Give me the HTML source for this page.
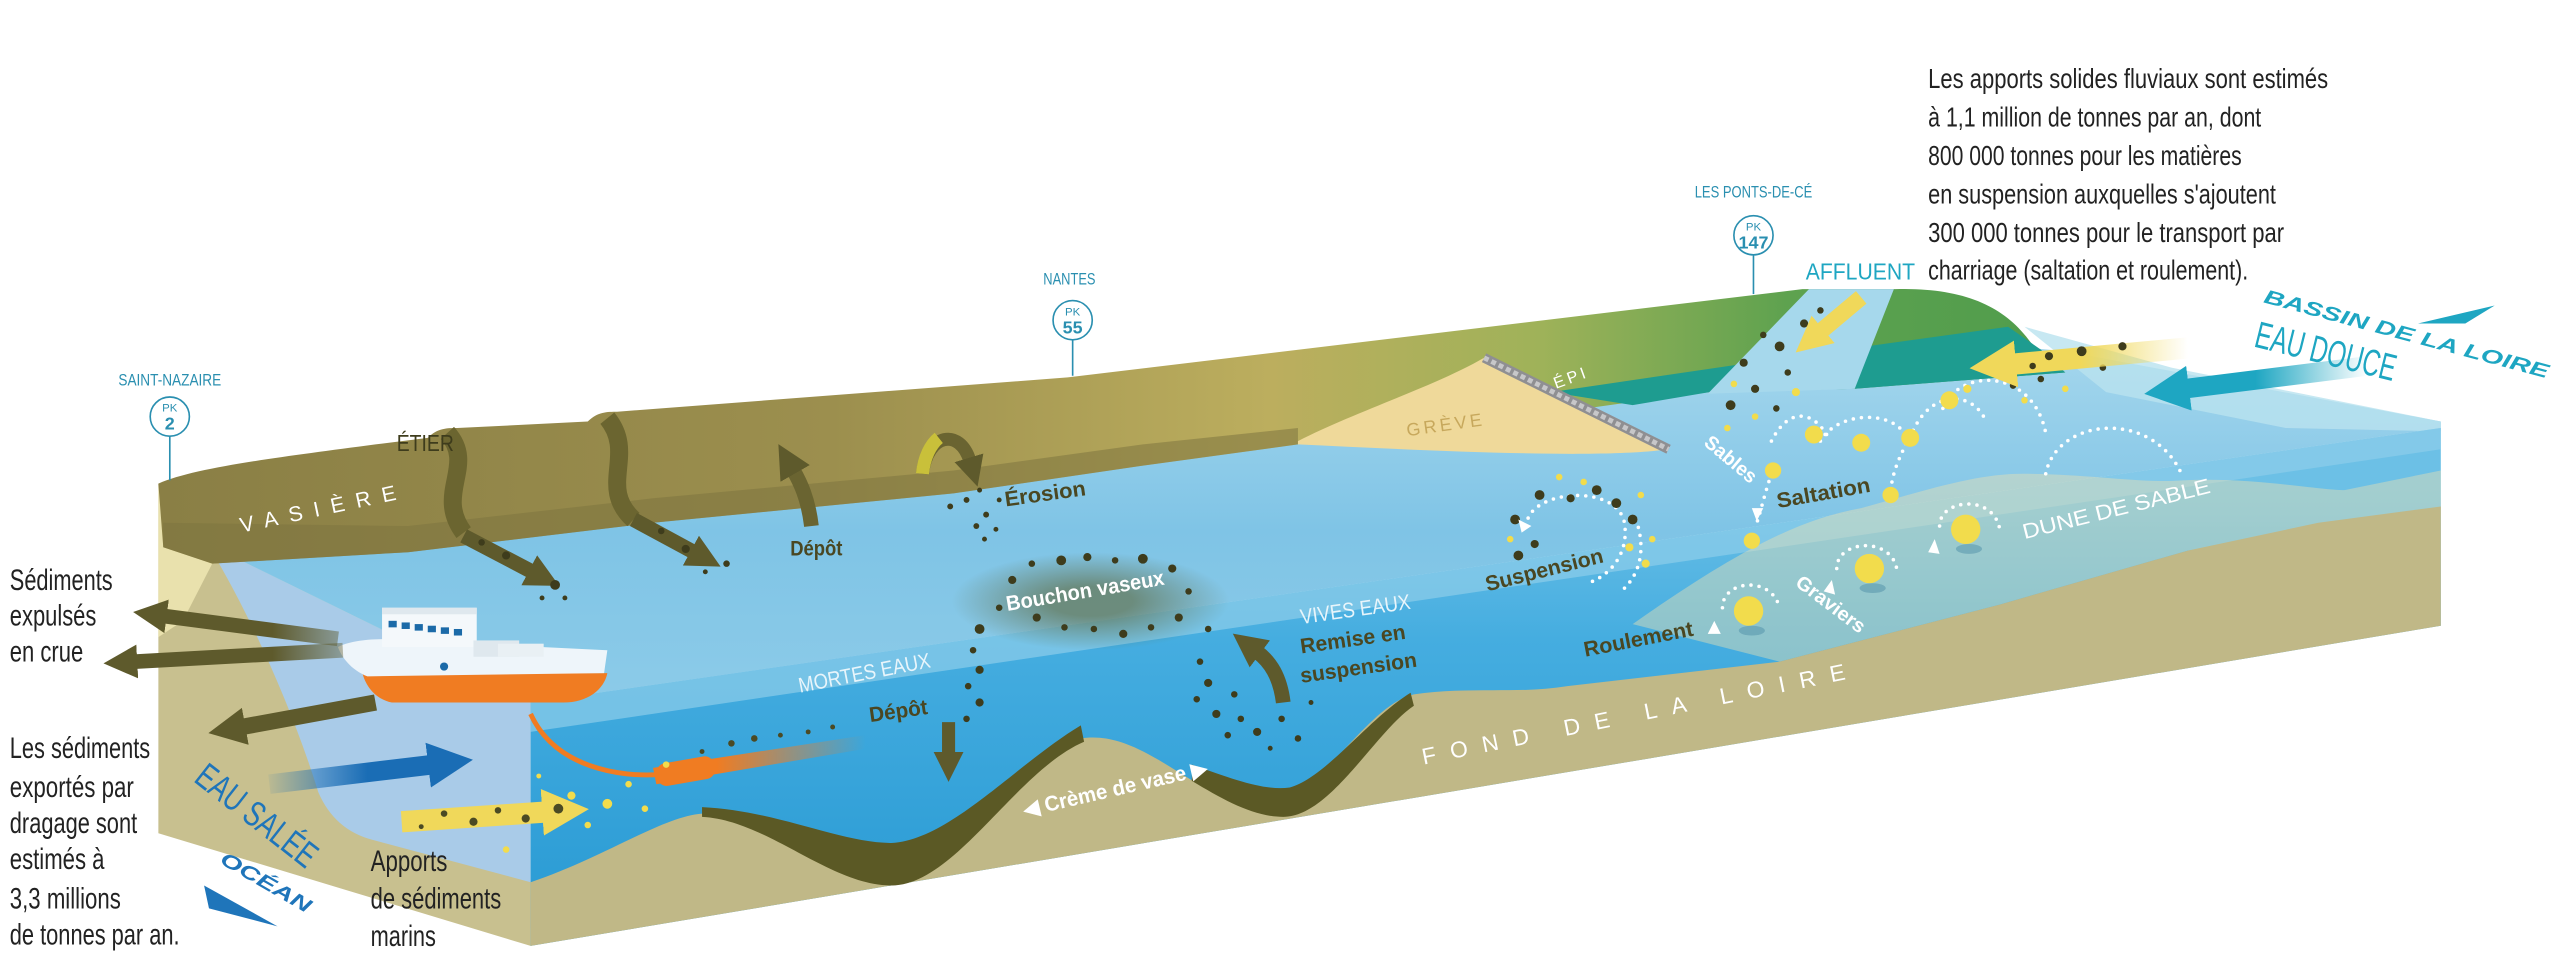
<!DOCTYPE html>
<html><head><meta charset="utf-8"><style>
html,body{margin:0;padding:0;background:#fff;}
svg{display:block}
text{font-family:"Liberation Sans",sans-serif;}
</style></head><body>
<svg width="2560" height="959" viewBox="0 0 1568 587" preserveAspectRatio="none" xmlns="http://www.w3.org/2000/svg">
<defs>
<linearGradient id="landg" gradientUnits="userSpaceOnUse" x1="100" y1="0" x2="1270" y2="0">
<stop offset="0" stop-color="#8a7f45"/><stop offset="0.35" stop-color="#9c8f4e"/><stop offset="0.58" stop-color="#bcae5e"/><stop offset="0.72" stop-color="#9fb259"/><stop offset="0.85" stop-color="#5ea24f"/><stop offset="1" stop-color="#4f9c4c"/>
</linearGradient>
<linearGradient id="front" gradientUnits="userSpaceOnUse" x1="0" y1="300" x2="0" y2="560">
<stop offset="0" stop-color="#6cc0e6"/><stop offset="0.35" stop-color="#45ade0"/><stop offset="1" stop-color="#2a9bd4"/>
</linearGradient>
<linearGradient id="surf" gradientUnits="userSpaceOnUse" x1="0" y1="220" x2="0" y2="430">
<stop offset="0" stop-color="#a2d5ec"/><stop offset="0.5" stop-color="#7fc4e6"/><stop offset="1" stop-color="#8ccbe8"/>
</linearGradient>
<radialGradient id="cloud"><stop offset="0.3" stop-color="#5b6436" stop-opacity="0.6"/><stop offset="1" stop-color="#5b6436" stop-opacity="0"/></radialGradient>
<marker id="mo" viewBox="0 0 10 10" refX="1" refY="5" markerWidth="2.3" markerHeight="2.3" orient="auto"><path d="M0,0L10,5L0,10z" fill="#5e5a2c"/></marker>
<marker id="mb" viewBox="0 0 10 10" refX="1" refY="5" markerWidth="2.3" markerHeight="2.3" orient="auto"><path d="M0,0L10,5L0,10z" fill="#1a6db5"/></marker>
<marker id="mt" viewBox="0 0 10 10" refX="1" refY="5" markerWidth="2.3" markerHeight="2.3" orient="auto"><path d="M0,0L10,5L0,10z" fill="#1ea6c2"/></marker>
<marker id="my" viewBox="0 0 10 10" refX="1" refY="5" markerWidth="2.2" markerHeight="2.2" orient="auto"><path d="M0,0L10,5L0,10z" fill="#f0d85a"/></marker>
<linearGradient id="fadeT" gradientUnits="userSpaceOnUse" x1="1313" y1="0" x2="1450" y2="0"><stop offset="0.5" stop-color="#1ea6c2"/><stop offset="1" stop-color="#1ea6c2" stop-opacity="0"/></linearGradient>
<linearGradient id="fadeY" gradientUnits="userSpaceOnUse" x1="1209" y1="0" x2="1340" y2="0"><stop offset="0.5" stop-color="#f0d85a"/><stop offset="1" stop-color="#f0d85a" stop-opacity="0"/></linearGradient>
<linearGradient id="fadeO" gradientUnits="userSpaceOnUse" x1="80" y1="0" x2="225" y2="0"><stop offset="0.6" stop-color="#5e5a2c"/><stop offset="1" stop-color="#5e5a2c" stop-opacity="0.2"/></linearGradient>
<linearGradient id="fadeB" gradientUnits="userSpaceOnUse" x1="160" y1="0" x2="290" y2="0"><stop offset="0" stop-color="#1a6db5" stop-opacity="0"/><stop offset="0.5" stop-color="#1a6db5"/></linearGradient>
<linearGradient id="fadeOr" gradientUnits="userSpaceOnUse" x1="400" y1="0" x2="530" y2="0"><stop offset="0.3" stop-color="#f07c22"/><stop offset="1" stop-color="#f07c22" stop-opacity="0"/></linearGradient>
</defs>

<!-- left face -->
<polygon points="97,296 127,333 325,430 325,579 97,510" fill="#c8c08f"/>
<polygon points="97,296 110,300 122,325 130,345 112,380 97,390" fill="#e9e1ad"/>
<path d="M127,333 C150,370 178,430 195,485 Q205,508 228,514 L325,540 L325,430 Z" fill="#a9cbe8"/>

<!-- water surface -->
<polygon points="100,330 700,270 1104,200 1265,215 1495,258 1495,262 325,430 127,333" fill="url(#surf)"/>
<polygon points="1240,200 1330,225 1495,258 1495,264 1400,262 1290,240" fill="#b9e2ef" opacity="0.8"/>

<!-- land -->
<path d="M97,296 C120,286 170,280 230,272 L262,268 C268,262 274,262 280,262 L360,258 C366,252 372,252 378,252 L654,231 L1104,177 L1111,177 L1161,177 C1200,176 1225,186 1241,206 C1250,218 1258,224 1265,228 L1135,238 L1047,240 L1000,246 L900,260 L795,272 L700,285 L584,302 L400,320 L250,338 L130,345 L100,335 Z" fill="url(#landg)"/>
<path d="M100,320 L250,322 L400,305 L584,288 L700,272 L795,262 L795,272 L700,285 L584,302 L400,320 L250,338 L130,345 L100,335 Z" fill="#7e7540" opacity="0.55"/>
<polygon points="950,240 1100,218 1230,200 1250,214 1265,228 1135,238 1047,240 1000,248" fill="#1e9c90"/>
<polygon points="1108,177 1160,177 1136,238 1046,241" fill="#a6d8ec"/>
<!-- greve + epi -->
<path d="M795,270 C830,252 880,236 909,219 L1022,275 C980,281 880,276 795,272 Z" fill="#efd99a"/>
<line x1="909" y1="219" x2="1022" y2="275" stroke="#8f8f92" stroke-width="6"/>
<line x1="909" y1="219" x2="1022" y2="275" stroke="#c7c7c9" stroke-width="3" stroke-dasharray="3 2"/>
<text x="862" y="267" font-size="11" fill="#c7a85c" letter-spacing="2" transform="rotate(-8 862 267)">GRÈVE</text>
<text x="953" y="238" font-size="10" fill="#fff" letter-spacing="2" transform="rotate(-20 953 238)">ÉPI</text>
<!-- etier channels -->
<path d="M274,265 C292,285 266,302 284,326" stroke="#6b6530" stroke-width="11" fill="none"/>
<path d="M372,256 C390,278 366,298 388,318" stroke="#6b6530" stroke-width="11" fill="none"/>

<!-- front face -->
<polygon points="325,430 1495,262 1495,383 325,579" fill="url(#front)"/>
<polygon points="325,430 1495,262 1495,275 325,448" fill="#8dcdea" opacity="0.7"/>
<!-- dune -->
<path d="M1000,382 C1060,340 1100,318 1140,311 C1180,300 1210,290 1239,290 C1280,290 1310,296 1337,294 C1380,292 1420,300 1436,300 L1495,288 L1495,316 L1340,337 L1225,370 L1090,405 Z" fill="#e6dfb4" opacity="0.45"/>
<!-- sand bed -->
<path d="M325,540 C370,525 405,500 430,498 C470,500 510,540 546,540 C585,540 625,462 662,452 C700,446 730,488 770,494 C805,496 835,432 866,425 C900,420 930,425 960,420 L1090,405 L1225,370 L1340,337 L1420,320 L1495,310 L1495,383 L325,579 Z" fill="#c0b887"/>
<path d="M430,494 C475,496 515,516 546,516 C582,514 622,468 662,444 L664,454 C622,472 585,542 546,542 C508,542 470,502 430,500 Z" fill="#5b5925"/>
<path d="M730,468 C758,478 775,484 790,482 C812,476 838,440 864,424 L866,432 C842,448 815,500 786,500 C768,500 750,490 730,478 Z" fill="#5b5925"/>
<text x="628" y="500" font-size="13" font-weight="bold" fill="#fff" transform="rotate(-13 628 500)" textLength="115" lengthAdjust="spacingAndGlyphs">◀ Crème de vase ▶</text>
<text x="872" y="468" font-size="14" fill="#fff" letter-spacing="9" transform="rotate(-11.4 872 468)">FOND DE LA LOIRE</text>

<!-- boat + dredge pipe -->
<path d="M325,437 C340,470 380,476 405,474" stroke="#f07c22" stroke-width="3" fill="none"/>
<path d="M400,470 L530,450 L532,458 L402,480 Z" fill="url(#fadeOr)"/>
<rect x="402" y="465" width="36" height="14" rx="6" fill="#f07c22" transform="rotate(-10 420 472)"/>
<path d="M222,412 L372,412 C370,422 360,430 345,430 L240,430 C230,428 224,420 222,412 Z" fill="#f07c22"/>
<path d="M207,396 C215,392 230,390 250,392 L372,398 L370,412 L225,414 C215,410 209,402 207,396 Z" fill="#eef5fa"/>
<rect x="234" y="372" width="58" height="24" fill="#f4f8fb"/>
<rect x="234" y="372" width="58" height="4" fill="#dfe8ee"/>
<g fill="#1b6aa8"><rect x="238" y="380" width="5" height="4"/><rect x="246" y="381" width="5" height="4"/><rect x="254" y="382" width="5" height="4"/><rect x="262" y="383" width="5" height="4"/><rect x="270" y="384" width="5" height="4"/><rect x="278" y="385" width="5" height="4"/></g>
<rect x="290" y="392" width="28" height="10" fill="#dfe8ee"/><rect x="305" y="394" width="28" height="8" fill="#e9f0f4"/>
<circle cx="272" cy="408" r="2.5" fill="#1b6aa8"/>

<!-- left arrows -->
<path d="M207,391 L100,377" stroke="url(#fadeO)" stroke-width="9" fill="none" marker-end="url(#mo)"/>
<path d="M210,398 L82,405" stroke="url(#fadeO)" stroke-width="9" fill="none" marker-end="url(#mo)"/>
<path d="M230,430 L148,445" stroke="#5e5a2c" stroke-width="10" fill="none" marker-end="url(#mo)"/>
<path d="M165,480 L265,468" stroke="url(#fadeB)" stroke-width="12" fill="none" marker-end="url(#mb)"/>
<path d="M246,503 L335,497" stroke="#f0d85a" stroke-width="13" fill="none" marker-end="url(#my)"/>
<g fill="#4b4a24"><circle cx="272" cy="498" r="2"/><circle cx="290" cy="503" r="2.5"/><circle cx="305" cy="496" r="2"/><circle cx="322" cy="501" r="2.5"/><circle cx="342" cy="495" r="3"/><circle cx="258" cy="506" r="1.5"/></g>
<g fill="#f2dc4c"><circle cx="330" cy="475" r="1.5"/><circle cx="350" cy="487" r="2.5"/><circle cx="372" cy="492" r="3"/><circle cx="385" cy="480" r="2"/><circle cx="395" cy="495" r="2"/><circle cx="360" cy="505" r="2"/><circle cx="310" cy="520" r="2"/><circle cx="408" cy="468" r="2"/></g>
<g fill="#4b4a24"><circle cx="430" cy="460" r="1.5"/><circle cx="448" cy="455" r="2"/><circle cx="462" cy="452" r="2"/><circle cx="478" cy="450" r="1.5"/><circle cx="495" cy="448" r="1.5"/><circle cx="510" cy="445" r="1.5"/></g>

<!-- etier arrows & depot/erosion -->
<path d="M284,328 L326,350" stroke="#5e5a2c" stroke-width="9" fill="none" marker-end="url(#mo)"/>
<path d="M388,318 L425,338" stroke="#5e5a2c" stroke-width="9" fill="none" marker-end="url(#mo)"/>
<g fill="#3e3c1c"><circle cx="295" cy="332" r="2"/><circle cx="310" cy="340" r="2.5"/><circle cx="340" cy="358" r="3"/><circle cx="332" cy="366" r="1.5"/><circle cx="346" cy="366" r="1.5"/><circle cx="405" cy="325" r="2"/><circle cx="420" cy="336" r="2.5"/><circle cx="445" cy="345" r="2"/><circle cx="432" cy="350" r="1.5"/></g>
<path d="M497,322 C495,305 490,295 486,288" stroke="#6a6431" stroke-width="9" fill="none" marker-end="url(#mo)"/>
<text x="484" y="340" font-size="13" font-weight="bold" fill="#4a4722" textLength="32" lengthAdjust="spacingAndGlyphs">Dépôt</text>
<path d="M565,290 C568,265 588,262 594,282" stroke="#6a6431" stroke-width="8" fill="none" marker-end="url(#mo)"/>
<path d="M565,290 C566,280 570,272 575,268" stroke="#c9c03a" stroke-width="8" fill="none"/>
<g fill="#3e3c1c"><circle cx="582" cy="310" r="1.8"/><circle cx="592" cy="306" r="1.8"/><circle cx="600" cy="300" r="1.5"/><circle cx="604" cy="315" r="1.8"/><circle cx="612" cy="306" r="1.5"/><circle cx="598" cy="322" r="1.8"/><circle cx="603" cy="330" r="1.5"/><circle cx="610" cy="324" r="1.5"/></g>
<text x="616" y="310" font-size="13" font-weight="bold" fill="#4a4722" transform="rotate(-8 616 310)" textLength="50" lengthAdjust="spacingAndGlyphs">Érosion</text>

<!-- bouchon vaseux -->
<ellipse cx="668" cy="368" rx="85" ry="30" fill="url(#cloud)"/>
<g fill="#3e3c1c"><circle cx="620" cy="355" r="2.5"/><circle cx="632" cy="345" r="2"/><circle cx="650" cy="343" r="3"/><circle cx="666" cy="341" r="2.5"/><circle cx="683" cy="343" r="2"/><circle cx="700" cy="342" r="3"/><circle cx="718" cy="348" r="2.5"/><circle cx="728" cy="362" r="2"/><circle cx="722" cy="378" r="2.5"/><circle cx="705" cy="384" r="2"/><circle cx="688" cy="388" r="2.5"/><circle cx="670" cy="385" r="2"/><circle cx="652" cy="384" r="2"/><circle cx="635" cy="378" r="2.5"/><circle cx="612" cy="372" r="2"/><circle cx="600" cy="385" r="3"/><circle cx="596" cy="398" r="2"/><circle cx="600" cy="410" r="2.5"/><circle cx="593" cy="420" r="2"/><circle cx="600" cy="430" r="2.5"/><circle cx="592" cy="440" r="2"/><circle cx="740" cy="385" r="2"/></g>
<text x="617" y="374" font-size="13" font-weight="bold" fill="#fff" transform="rotate(-9.5 617 374)" textLength="98" lengthAdjust="spacingAndGlyphs">Bouchon vaseux</text>
<text x="490" y="424" font-size="13" fill="#e8f5fb" transform="rotate(-11 490 424)" textLength="82" lengthAdjust="spacingAndGlyphs">MORTES EAUX</text>
<text x="533" y="442" font-size="13" font-weight="bold" fill="#4a4722" transform="rotate(-8 533 442)" textLength="36" lengthAdjust="spacingAndGlyphs">Dépôt</text>
<path d="M581,442 L581,462" stroke="#5e5a2c" stroke-width="8" fill="none" marker-end="url(#mo)"/>
<!-- vives eaux -->
<g fill="#3e3c1c"><circle cx="735" cy="405" r="2"/><circle cx="740" cy="418" r="2.5"/><circle cx="733" cy="428" r="2"/><circle cx="745" cy="437" r="2.5"/><circle cx="756" cy="425" r="2"/><circle cx="760" cy="440" r="2"/><circle cx="770" cy="448" r="2.5"/><circle cx="752" cy="450" r="2"/><circle cx="785" cy="440" r="2"/><circle cx="795" cy="452" r="2"/><circle cx="778" cy="458" r="1.5"/><circle cx="803" cy="430" r="1.5"/></g>
<path d="M786,430 C784,414 778,405 770,399" stroke="#5e5a2c" stroke-width="9" fill="none" marker-end="url(#mo)"/>
<text x="797" y="382" font-size="13" fill="#e8f5fb" transform="rotate(-8 797 382)" textLength="68" lengthAdjust="spacingAndGlyphs">VIVES EAUX</text>
<text x="797" y="400" font-size="13" font-weight="bold" fill="#4a4722" transform="rotate(-8 797 400)" textLength="65" lengthAdjust="spacingAndGlyphs">Remise en</text>
<text x="797" y="418" font-size="13" font-weight="bold" fill="#4a4722" transform="rotate(-8 797 418)" textLength="72" lengthAdjust="spacingAndGlyphs">suspension</text>

<!-- suspension cluster -->
<g fill="none" stroke="#fff" stroke-width="2.2" stroke-linecap="round" stroke-dasharray="0 5">
<path d="M935,322 C935,300 990,295 995,320 C998,340 985,352 975,356"/>
<path d="M1002,318 C1008,335 1005,350 995,360"/>
<path d="M1085,270 C1095,250 1110,250 1120,268 M1115,270 C1125,252 1160,250 1168,268 M1170,268 C1180,240 1205,238 1215,255 M1190,250 C1200,225 1245,225 1253,265 M1253,290 C1260,255 1320,250 1337,292"/>
<path d="M1085,290 C1080,305 1078,315 1076,320"/>
<path d="M1158,300 C1160,285 1165,278 1168,270"/>
<path d="M1055,372 C1055,355 1085,352 1090,372 M1125,348 C1125,330 1160,328 1162,350 M1188,322 C1188,305 1222,302 1225,325"/>
</g>
<g fill="#3e3c1c"><circle cx="928" cy="318" r="3"/><circle cx="943" cy="303" r="3"/><circle cx="962" cy="305" r="2.5"/><circle cx="978" cy="300" r="3"/><circle cx="990" cy="308" r="3"/><circle cx="1000" cy="318" r="3"/><circle cx="940" cy="333" r="2.5"/><circle cx="930" cy="340" r="3"/><circle cx="1080" cy="205" r="2"/><circle cx="1090" cy="212" r="3"/><circle cx="1068" cy="222" r="2.5"/><circle cx="1095" cy="228" r="2"/><circle cx="1075" cy="238" r="2.5"/><circle cx="1060" cy="248" r="3"/><circle cx="1088" cy="250" r="2"/><circle cx="1105" cy="198" r="2.5"/><circle cx="1115" cy="190" r="2"/><circle cx="1255" cy="218" r="2.5"/><circle cx="1275" cy="215" r="3"/><circle cx="1288" cy="225" r="2"/><circle cx="1300" cy="212" r="2.5"/><circle cx="1250" cy="232" r="2"/><circle cx="1233" cy="236" r="2"/></g>
<g fill="#f2dc4c"><circle cx="955" cy="292" r="2"/><circle cx="970" cy="295" r="2"/><circle cx="1005" cy="303" r="2"/><circle cx="1008" cy="345" r="2.5"/><circle cx="1012" cy="330" r="2"/><circle cx="925" cy="330" r="2"/><circle cx="998" cy="335" r="2.5"/><circle cx="1062" cy="235" r="2"/><circle cx="1100" cy="240" r="2.5"/><circle cx="1075" cy="255" r="2"/><circle cx="1058" cy="262" r="2"/><circle cx="1205" cy="238" r="2.5"/><circle cx="1240" cy="245" r="2"/><circle cx="1265" cy="238" r="2"/>
<circle cx="1086" cy="288" r="5"/><circle cx="1111" cy="266" r="5.5"/><circle cx="1140" cy="271" r="5.5"/><circle cx="1170" cy="268" r="5.5"/><circle cx="1194" cy="245" r="5.5"/><circle cx="1158" cy="303" r="5"/><circle cx="1073" cy="331" r="5"/>
<circle cx="1071" cy="374" r="9"/><circle cx="1145" cy="348" r="9"/><circle cx="1204" cy="324" r="9"/></g>
<g fill="#4f8fa8" opacity="0.5"><ellipse cx="1073" cy="386" rx="8" ry="3"/><ellipse cx="1147" cy="360" rx="8" ry="3"/><ellipse cx="1206" cy="336" rx="8" ry="3"/></g>
<g fill="#fff"><polygon points="930,318 938,322 932,326"/><polygon points="1073,311 1080,311 1076,319"/><polygon points="1050,380 1046,388 1054,388"/><polygon points="1122,355 1117,362 1124,364"/><polygon points="1185,330 1181,338 1188,339"/></g>
<text x="911" y="362" font-size="13" font-weight="bold" fill="#4a4722" transform="rotate(-14 911 362)" textLength="74" lengthAdjust="spacingAndGlyphs">Suspension</text>
<text x="1043" y="272" font-size="12" font-weight="bold" fill="#fff" transform="rotate(40 1043 272)" textLength="38" lengthAdjust="spacingAndGlyphs">Sables</text>
<text x="1089" y="311" font-size="13" font-weight="bold" fill="#4a4722" transform="rotate(-10 1089 311)" textLength="58" lengthAdjust="spacingAndGlyphs">Saltation</text>
<text x="971" y="402" font-size="13" font-weight="bold" fill="#4a4722" transform="rotate(-11 971 402)" textLength="68" lengthAdjust="spacingAndGlyphs">Roulement</text>
<text x="1099" y="358" font-size="12" font-weight="bold" fill="#fff" transform="rotate(37 1099 358)" textLength="50" lengthAdjust="spacingAndGlyphs">Graviers</text>
<text x="1240" y="330" font-size="13" fill="#fff" transform="rotate(-14 1240 330)" textLength="118" lengthAdjust="spacingAndGlyphs">DUNE DE SABLE</text>

<!-- upstream arrows -->
<path d="M1140,182 L1115,203" stroke="#f0d85a" stroke-width="10" fill="none" marker-end="url(#my)"/>
<path d="M1340,213 L1232,223" stroke="url(#fadeY)" stroke-width="13" fill="none" marker-end="url(#my)"/>
<g fill="#3e3c1c"><circle cx="1255" cy="218" r="2.5"/><circle cx="1275" cy="215" r="3"/><circle cx="1300" cy="212" r="2.5"/><circle cx="1245" cy="224" r="2"/></g>
<path d="M1450,224 L1338,238" stroke="url(#fadeT)" stroke-width="12" fill="none" marker-end="url(#mt)"/>

<!-- labels top -->
<text x="1380" y="212" font-size="23" fill="#1ea6c2" transform="rotate(14 1380 212)" textLength="88" lengthAdjust="spacingAndGlyphs">EAU DOUCE</text>
<text x="1386" y="185" font-size="12" font-weight="bold" font-style="italic" fill="#1ea6c2" transform="rotate(15 1386 185)" textLength="180" lengthAdjust="spacingAndGlyphs">BASSIN DE LA LOIRE</text>
<polygon points="1481,198 1528,187 1510,198" fill="#1ea6c2"/>
<text x="1106" y="171" font-size="14" fill="#1ea6c2" textLength="67" lengthAdjust="spacingAndGlyphs">AFFLUENT</text>
<g font-size="17" fill="#222">
<text x="1181" y="54" textLength="245" lengthAdjust="spacingAndGlyphs">Les apports solides fluviaux sont estimés</text>
<text x="1181" y="77.5" textLength="204" lengthAdjust="spacingAndGlyphs">à 1,1 million de tonnes par an, dont</text>
<text x="1181" y="101" textLength="192" lengthAdjust="spacingAndGlyphs">800 000 tonnes pour les matières</text>
<text x="1181" y="124.5" textLength="213" lengthAdjust="spacingAndGlyphs">en suspension auxquelles s'ajoutent</text>
<text x="1181" y="148" textLength="218" lengthAdjust="spacingAndGlyphs">300 000 tonnes pour le transport par</text>
<text x="1181" y="171" textLength="196" lengthAdjust="spacingAndGlyphs">charriage (saltation et roulement).</text>
</g>
<!-- PK markers -->
<g stroke="#2a8fb0" stroke-width="1" fill="#fff">
<line x1="104" y1="267" x2="104" y2="294"/><circle cx="104" cy="255" r="12"/>
<line x1="657" y1="208" x2="657" y2="230"/><circle cx="657" cy="196" r="12"/>
<line x1="1074" y1="156" x2="1074" y2="180"/><circle cx="1074" cy="144" r="12"/>
</g>
<g fill="#2a8fb0" text-anchor="middle">
<text x="104" y="252" font-size="7">PK</text><text x="104" y="263" font-size="11" font-weight="bold">2</text>
<text x="657" y="193" font-size="7">PK</text><text x="657" y="204" font-size="11" font-weight="bold">55</text>
<text x="1074" y="141" font-size="7">PK</text><text x="1074" y="152" font-size="11" font-weight="bold">147</text>
<text x="104" y="236" font-size="10" textLength="63" lengthAdjust="spacingAndGlyphs">SAINT-NAZAIRE</text>
<text x="655" y="174" font-size="10" textLength="32" lengthAdjust="spacingAndGlyphs">NANTES</text>
<text x="1074" y="121" font-size="10" textLength="72" lengthAdjust="spacingAndGlyphs">LES PONTS-DE-CÉ</text>
</g>
<text x="243" y="276" font-size="14" fill="#3e3c1c" textLength="35" lengthAdjust="spacingAndGlyphs">ÉTIER</text>
<text x="148" y="326" font-size="13" fill="#fff" letter-spacing="7" transform="rotate(-12 148 326)">VASIÈRE</text>

<!-- left text -->
<g font-size="18" fill="#222">
<text x="6" y="361" textLength="63" lengthAdjust="spacingAndGlyphs">Sédiments</text>
<text x="6" y="383" textLength="53" lengthAdjust="spacingAndGlyphs">expulsés</text>
<text x="6" y="405" textLength="45" lengthAdjust="spacingAndGlyphs">en crue</text>
<text x="6" y="464" textLength="86" lengthAdjust="spacingAndGlyphs">Les sédiments</text>
<text x="6" y="488" textLength="76" lengthAdjust="spacingAndGlyphs">exportés par</text>
<text x="6" y="510" textLength="78" lengthAdjust="spacingAndGlyphs">dragage sont</text>
<text x="6" y="532" textLength="58" lengthAdjust="spacingAndGlyphs">estimés à</text>
<text x="6" y="556" textLength="68" lengthAdjust="spacingAndGlyphs">3,3 millions</text>
<text x="6" y="578" textLength="104" lengthAdjust="spacingAndGlyphs">de tonnes par an.</text>
<text x="227" y="533" textLength="47" lengthAdjust="spacingAndGlyphs">Apports</text>
<text x="227" y="556" textLength="80" lengthAdjust="spacingAndGlyphs">de sédiments</text>
<text x="227" y="579" textLength="40" lengthAdjust="spacingAndGlyphs">marins</text>
</g>
<text x="118" y="478" font-size="22" fill="#1f75ba" transform="rotate(38 118 478)" textLength="88" lengthAdjust="spacingAndGlyphs">EAU SALÉE</text>
<text x="134" y="528" font-size="12" font-weight="bold" font-style="italic" fill="#1f75ba" transform="rotate(30 134 528)" textLength="62" lengthAdjust="spacingAndGlyphs">OCÉAN</text>
<polygon points="125,542 170,567 128,556" fill="#1f75ba"/>
</svg>
</body></html>
